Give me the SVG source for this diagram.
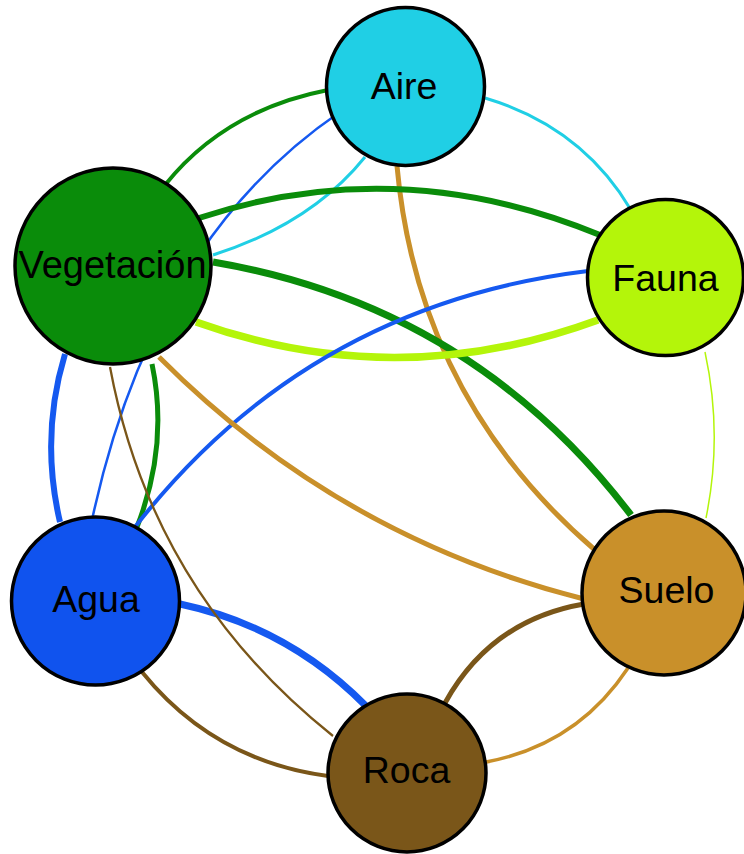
<svg xmlns="http://www.w3.org/2000/svg" width="744" height="854" viewBox="0 0 744 854">
<style>
.e{fill:none;stroke-linecap:butt}
.n{stroke:#000;stroke-width:3.5}
.t{font-family:"Liberation Sans",Arial,sans-serif;font-size:37.5px;fill:#000;text-anchor:middle}
</style>
<rect width="744" height="854" fill="#fff"/>
<g id="connectors">
<path class="e" d="M165,185 Q225,110 328,90" stroke="#0a8c0a" stroke-width="4"/>
<path class="e" d="M340,112 Q152,240 92,520" stroke="#1559f0" stroke-width="2.5"/>
<path class="e" d="M365,157 Q311,224 213,255" stroke="#20cfe5" stroke-width="3"/>
<path class="e" d="M485,98 Q582,127 631,210" stroke="#20cfe5" stroke-width="3"/>
<path class="e" d="M397,166 Q418,398 595,550" stroke="#c9902a" stroke-width="5"/>
<path class="e" d="M199,218 Q399,152 600,235" stroke="#0a8c0a" stroke-width="6"/>
<path class="e" d="M213,262 Q472,306 631,515" stroke="#0a8c0a" stroke-width="7"/>
<path class="e" d="M152,364 Q169,445 137,527" stroke="#0a8c0a" stroke-width="5"/>
<path class="e" d="M598,320 Q397,394 196,322" stroke="#b4f50a" stroke-width="7.5"/>
<path class="e" d="M705,352 Q723,435 706,518" stroke="#b4f50a" stroke-width="1.5"/>
<path class="e" d="M135,527 Q308,305 588,271" stroke="#1559f0" stroke-width="4"/>
<path class="e" d="M60,522 Q40,437 65,354" stroke="#1559f0" stroke-width="6"/>
<path class="e" d="M180,604 Q288,627 366,706" stroke="#1559f0" stroke-width="7"/>
<path class="e" d="M142,672 Q214,761 328,776" stroke="#7a5619" stroke-width="4"/>
<path class="e" d="M110,367 Q152,592 333,736" stroke="#7a5619" stroke-width="2.3"/>
<path class="e" d="M445,703 Q491,620 584,604" stroke="#7a5619" stroke-width="5"/>
<path class="e" d="M159,357 Q338,537 584,599" stroke="#c9902a" stroke-width="5"/>
<path class="e" d="M628,668 Q577,745 486,762" stroke="#c9902a" stroke-width="3.5"/>
</g>
<g id="node-aire">
<circle class="n" cx="405.5" cy="86.5" r="79" fill="#20cfe5"/>
<text class="t" x="404" y="99">Aire</text>
</g>
<g id="node-vegetacion">
<circle class="n" cx="113" cy="266" r="98" fill="#0a8c0a"/>
<text class="t" x="112.5" y="278" style="font-size:38px">Vegetación</text>
</g>
<g id="node-fauna">
<circle class="n" cx="665.5" cy="277.5" r="78" fill="#b4f50a"/>
<text class="t" x="665.5" y="291">Fauna</text>
</g>
<g id="node-agua">
<circle class="n" cx="95.5" cy="601" r="84" fill="#1053ee"/>
<text class="t" x="96" y="612">Agua</text>
</g>
<g id="node-suelo">
<circle class="n" cx="664" cy="593" r="82" fill="#c9902a"/>
<text class="t" x="666.5" y="603">Suelo</text>
</g>
<g id="node-roca">
<circle class="n" cx="407" cy="773" r="79" fill="#7a5619"/>
<text class="t" x="406.5" y="783">Roca</text>
</g>
</svg>
